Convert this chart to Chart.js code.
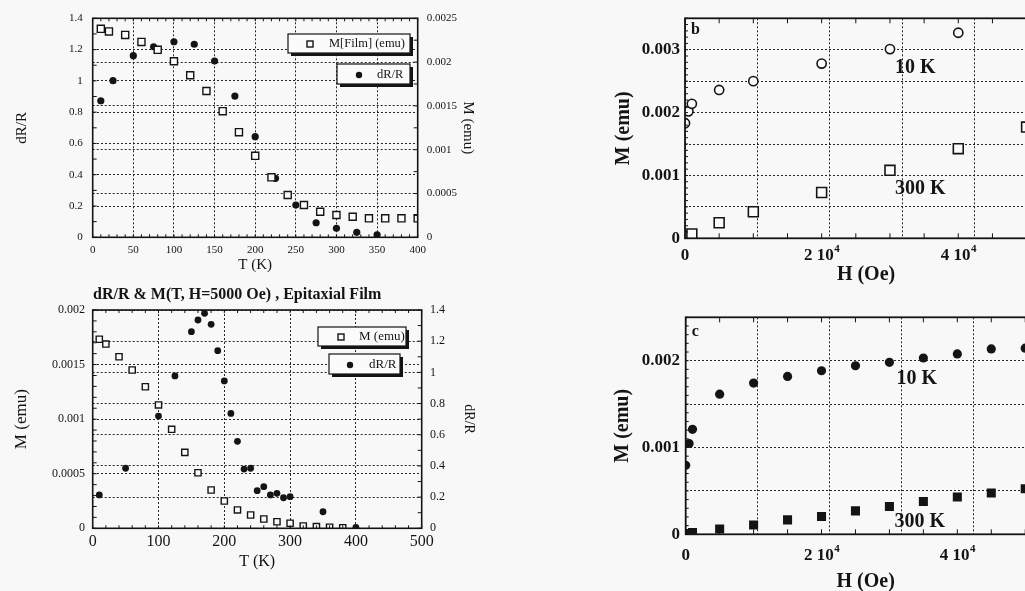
<!DOCTYPE html>
<html>
<head>
<meta charset="utf-8">
<script src="https://cdn.jsdelivr.net/npm/chart.js@4.4.1/dist/chart.umd.min.js"></script>
<style>
  html, body { margin:0; padding:0; width:1025px; height:591px; overflow:hidden; background:#f8f8f8; }
  .box { position:absolute; }
</style>
</head>
<body>
<div class="box" style="left:0;top:0;"><canvas id="cA" width="500" height="280"></canvas></div>
<div class="box" style="left:0;top:280px;"><canvas id="cB" width="500" height="311"></canvas></div>
<div class="box" style="left:600px;top:0;"><canvas id="cC" width="460" height="300"></canvas></div>
<div class="box" style="left:600px;top:300px;"><canvas id="cD" width="460" height="300"></canvas></div>
<script>
// ---------------- DATA ----------------
// Panel A: dR/R & M vs T (film)
const A_T_M = [10,20,40,60,80,100,120,140,160,180,200,220,240,260,280,300,320,340,360,380,400];
const A_M   = [0.00238,0.00235,0.00231,0.00223,0.00214,0.00201,0.00185,0.00167,0.00144,0.00120,0.00093,0.000685,0.000483,0.000369,0.000292,0.000255,0.000235,0.000217,0.000217,0.000217,0.000217];
const A_T_R = [10,25,50,75,100,125,150,175,200,225,250,275,300,325,350];
const A_R   = [0.873,1.001,1.161,1.218,1.250,1.234,1.127,0.903,0.643,0.377,0.206,0.093,0.058,0.032,0.015];

// Panel B: dR/R & M(T, H=5000 Oe), epitaxial film
const B_T_M = [10,20,40,60,80,100,120,140,160,180,200,220,240,260,280,300,320,340,360,380];
const B_M   = [0.001732,0.001688,0.001572,0.00145,0.001297,0.00113,0.000907,0.000696,0.000509,0.000351,0.00025,0.000168,0.000122,0.000085,0.00006,0.000046,0.000021,0.000015,0.00001,0.000005];
const B_T_R = [10,50,100,125,150,160,170,180,190,200,210,220,230,240,250,260,270,280,290,300,350,400];
const B_R   = [0.214,0.385,0.72,0.977,1.261,1.336,1.379,1.308,1.139,0.945,0.737,0.558,0.38,0.385,0.241,0.267,0.214,0.224,0.196,0.203,0.106,0.006];

// Panel C (b): M vs H
const C_H10  = [0,500,1000,5000,10000,20000,30000,40000];
const C_M10  = [0.00183,0.00202,0.00214,0.00236,0.0025,0.00278,0.00301,0.00327];
const C_H300 = [0,500,1000,5000,10000,20000,30000,40000,50000];
const C_M300 = [0.00001,0.00004,0.00007,0.000247,0.000422,0.000729,0.001082,0.001426,0.00177];

// Panel D (c): M vs H
const D_H   = [0,500,1000,5000,10000,15000,20000,25000,30000,35000,40000,45000,50000];
const D_M10 = [0.000795,0.001046,0.001209,0.001614,0.001742,0.001819,0.001884,0.001942,0.001981,0.002031,0.002078,0.002136,0.002144];
const D_M300= [0,0.00001,0.00002,0.000061,0.000108,0.000166,0.000204,0.00027,0.00032,0.000378,0.000429,0.000475,0.000525];

// Tick labels / text
const H_TICKS = [0, 20000, 40000];   // labelled H ticks (shown as "n 10^4")
const A_LEG = ['M[Film] (emu)', 'dR/R'];
const B_LEG = ['M (emu)', 'dR/R'];
const B_TITLE = 'dR/R & M(T, H=5000 Oe) , Epitaxial Film';

// ---------------- HELPERS ----------------
const SERIF = "'Liberation Serif','Times New Roman',serif";
const INK = '#141414';
const pts = (xs, ys) => xs.map((x, i) => ({x, y: ys[i]}));
const fmt = v => String(+Number(v).toFixed(6));

const framePlugin = {
  id: 'frame',
  afterDraw(chart, args, opts) {
    const {ctx, chartArea: a} = chart;
    ctx.save();
    ctx.strokeStyle = INK;
    ctx.lineWidth = 1;
    (opts.minor || []).forEach(m => {
      const s = chart.scales[m.id];
      const n = Math.round((s.max - s.min) / m.step);
      ctx.beginPath();
      for (let i = 0; i <= n; i++) {
        const p = s.getPixelForValue(s.min + i * m.step);
        if (s.isHorizontal()) {
          ctx.moveTo(p, a.bottom); ctx.lineTo(p, a.bottom - m.len);
          ctx.moveTo(p, a.top); ctx.lineTo(p, a.top + m.len);
        } else {
          if (s.position === 'left' || m.both) { ctx.moveTo(a.left, p); ctx.lineTo(a.left + m.len, p); }
          if (s.position === 'right' || m.both) { ctx.moveTo(a.right, p); ctx.lineTo(a.right - m.len, p); }
        }
      }
      ctx.stroke();
    });
    ctx.lineWidth = opts.width || 1.6;
    ctx.strokeRect(a.left, a.top, a.right - a.left, a.bottom - a.top);
    ctx.restore();
  }
};

const decoPlugin = {
  id: 'deco',
  afterDraw(chart, args, opts) {
    const {ctx, chartArea: a} = chart;
    ctx.save();
    (opts.boxes || []).forEach(b => {
      const w = b.x2 - b.x1, h = b.y2 - b.y1;
      ctx.fillStyle = INK; ctx.fillRect(b.x1 + 3, b.y1 + 3, w, h);
      ctx.fillStyle = '#fbfbfb'; ctx.fillRect(b.x1, b.y1, w, h);
      ctx.strokeStyle = INK; ctx.lineWidth = 1.2; ctx.strokeRect(b.x1, b.y1, w, h);
      ctx.fillStyle = INK;
      if (b.marker === 'square') {
        ctx.lineWidth = 1.4; ctx.strokeRect(b.mx - 3, b.my - 3, 6, 6);
      } else {
        ctx.beginPath(); ctx.arc(b.mx, b.my, 3.2, 0, Math.PI * 2); ctx.fill();
      }
      ctx.font = b.font;
      ctx.textAlign = 'left'; ctx.textBaseline = 'middle';
      ctx.fillText(b.text, b.tx, b.my);
    });
    (opts.texts || []).forEach(t => {
      ctx.fillStyle = INK;
      ctx.font = t.font;
      ctx.textAlign = 'left'; ctx.textBaseline = 'middle';
      let x, y;
      if (t.data) {
        x = chart.scales.x.getPixelForValue(t.x);
        y = chart.scales[t.yId || 'y'].getPixelForValue(t.y);
      } else if (t.rel) {
        x = a.left + t.x; y = a.top + t.y;
      } else { x = t.x; y = t.y; }
      ctx.fillText(t.text, x, y);
    });
    if (opts.hLabels) {
      const L = opts.hLabels;
      const sx = chart.scales.x;
      const y = a.bottom + L.dy;
      ctx.fillStyle = INK;
      ctx.textBaseline = 'middle'; ctx.textAlign = 'left';
      L.values.forEach(v => {
        const px = sx.getPixelForValue(v);
        const base = v === 0 ? '0' : (v / 10000) + ' 10';
        const sup = v === 0 ? '' : '4';
        ctx.font = L.font;
        const w1 = ctx.measureText(base).width;
        ctx.font = L.supFont;
        const w2 = sup ? ctx.measureText(sup).width : 0;
        const x0 = px - (w1 + w2) / 2;
        ctx.font = L.font;
        ctx.fillText(base, x0, y);
        if (sup) { ctx.font = L.supFont; ctx.fillText(sup, x0 + w1 + 0.5, y - 6); }
      });
    }
    ctx.restore();
  }
};

function gridOpts() {
  return { color: '#262626', lineWidth: 1, drawTicks: false };
}
function borderOpts() {
  return { display: false, dash: [2, 2] };
}
function baseOpts(padding) {
  return {
    responsive: false, animation: false, devicePixelRatio: 1,
    layout: { padding },
    plugins: { legend: { display: false }, tooltip: { enabled: false } },
  };
}

// ---------------- PANEL A ----------------
(function(){
  const f11 = { family: SERIF, size: 11 };
  const f15 = { family: SERIF, size: 15 };
  const o = baseOpts({ top: 18.3, left: 0, right: 0, bottom: 0 });
  o.scales = {
    x: { type: 'linear', position: 'bottom', min: 0, max: 400,
         ticks: { stepSize: 50, padding: 6, font: f11, color: INK, autoSkip: false, maxRotation: 0, callback: fmt },
         grid: gridOpts(), border: borderOpts(),
         title: { display: true, text: 'T (K)', font: f15, color: INK, padding: { top: 0, bottom: 6 } },
         afterFit: s => { s.height = 42.7; } },
    y: { type: 'linear', position: 'left', min: 0, max: 1.4,
         ticks: { stepSize: 0.2, padding: 10, font: f11, color: INK, autoSkip: false, callback: fmt },
         grid: gridOpts(), border: borderOpts(),
         title: { display: true, text: 'dR/R', font: f15, color: INK, padding: { top: 13, bottom: 0 } },
         afterFit: s => { s.width = 92.7; } },
    y1: { type: 'linear', position: 'right', min: 0, max: 0.0025,
         ticks: { stepSize: 0.0005, padding: 9, font: f11, color: INK, autoSkip: false, callback: fmt },
         grid: gridOpts(), border: borderOpts(),
         title: { display: true, text: 'M (emu)', font: f15, color: INK, padding: { top: 23, bottom: 0 } },
         afterFit: s => { s.width = 82.3; } }
  };
  o.plugins.frame = { minor: [ {id:'x', step:10, len:3}, {id:'y', step:0.1, len:4}, {id:'y1', step:0.00025, len:4} ] };
  const lf = '12.5px ' + SERIF;
  o.plugins.deco = { boxes: [
    { x1: 288, y1: 34, x2: 410, y2: 53, marker: 'square', mx: 310, my: 44, tx: 329, text: A_LEG[0], font: lf },
    { x1: 337, y1: 64, x2: 410, y2: 84, marker: 'circle', mx: 359, my: 75, tx: 377, text: A_LEG[1], font: lf }
  ]};
  new Chart(document.getElementById('cA'), {
    type: 'scatter',
    data: { datasets: [
      { label: A_LEG[0], data: pts(A_T_M, A_M), yAxisID: 'y1', pointStyle: 'rect', pointRadius: 5,
        backgroundColor: '#fbfbfb', borderColor: INK, borderWidth: 1.4 },
      { label: A_LEG[1], data: pts(A_T_R, A_R), yAxisID: 'y', pointStyle: 'circle', pointRadius: 3.6,
        backgroundColor: INK, borderColor: INK, borderWidth: 0 }
    ]},
    options: o,
    plugins: [framePlugin, decoPlugin]
  });
})();

// ---------------- PANEL B ----------------
(function(){
  const f12 = { family: SERIF, size: 12 };
  const f16 = { family: SERIF, size: 16 };
  const o = baseOpts({ top: 30, left: 0, right: 0, bottom: 0 });
  o.scales = {
    x: { type: 'linear', position: 'bottom', min: 0, max: 500,
         ticks: { stepSize: 100, padding: 4, font: f16, color: INK, autoSkip: false, maxRotation: 0, callback: fmt },
         grid: gridOpts(), border: borderOpts(),
         title: { display: true, text: 'T (K)', font: f16, color: INK, padding: { top: 0, bottom: 19.4 } },
         afterFit: s => { s.height = 62.7; } },
    y: { type: 'linear', position: 'left', min: 0, max: 0.002,
         ticks: { stepSize: 0.0005, padding: 7.7, font: f12, color: INK, autoSkip: false, callback: fmt },
         grid: gridOpts(), border: borderOpts(),
         title: { display: true, text: 'M (emu)', font: { family: SERIF, size: 17 }, color: INK, padding: { top: 11.8, bottom: 0 } },
         afterFit: s => { s.width = 92.7; } },
    y1: { type: 'linear', position: 'right', min: 0, max: 1.4,
         ticks: { stepSize: 0.2, padding: 8.3, font: f12, color: INK, autoSkip: false, callback: fmt },
         grid: gridOpts(), border: borderOpts(),
         title: { display: true, text: 'dR/R', font: { family: SERIF, size: 14 }, color: INK, padding: { top: 22.6, bottom: 0 } },
         afterFit: s => { s.width = 78.3; } }
  };
  o.plugins.frame = { minor: [ {id:'x', step:20, len:3}, {id:'y', step:0.0001, len:4}, {id:'y1', step:0.1, len:4} ] };
  const lf = '13px ' + SERIF;
  o.plugins.deco = {
    boxes: [
      { x1: 318, y1: 47, x2: 406, y2: 66, marker: 'square', mx: 341, my: 57, tx: 359, text: B_LEG[0], font: lf },
      { x1: 329, y1: 74, x2: 400, y2: 94, marker: 'circle', mx: 350, my: 85, tx: 369, text: B_LEG[1], font: lf }
    ],
    texts: [ { text: B_TITLE, x: 93, y: 15, font: 'bold 16px ' + SERIF } ]
  };
  new Chart(document.getElementById('cB'), {
    type: 'scatter',
    data: { datasets: [
      { label: B_LEG[0], data: pts(B_T_M, B_M), yAxisID: 'y', pointStyle: 'rect', pointRadius: 4.4,
        backgroundColor: '#fbfbfb', borderColor: INK, borderWidth: 1.4 },
      { label: B_LEG[1], data: pts(B_T_R, B_R), yAxisID: 'y1', pointStyle: 'circle', pointRadius: 3.4,
        backgroundColor: INK, borderColor: INK, borderWidth: 0 }
    ]},
    options: o,
    plugins: [framePlugin, decoPlugin]
  });
})();

// ---------------- PANELS C, D ----------------
function mTick(v) {
  const k = v * 1000;
  if (Math.abs(k - Math.round(k)) < 1e-6) return String(+v.toFixed(4));
  return '';
}
function mhChart(id, cfg) {
  const ft = { family: SERIF, size: 17, weight: 'bold' };
  const fT = { family: SERIF, size: 20, weight: 'bold' };
  const o = baseOpts({ top: cfg.padTop, left: 0, right: cfg.padRight, bottom: 0 });
  o.scales = {
    x: { type: 'linear', position: 'bottom', min: 0, max: 53000,
         ticks: { stepSize: 10000, padding: cfg.xPad, font: ft, color: INK, autoSkip: false, maxRotation: 0, callback: () => '' },
         grid: gridOpts(), border: borderOpts(),
         title: { display: true, text: 'H (Oe)', font: fT, color: INK, padding: { top: 0, bottom: cfg.xTitlePad } },
         afterFit: s => { s.height = cfg.xH; } },
    y: { type: 'linear', position: 'left', min: 0, max: cfg.yMax,
         ticks: { stepSize: 0.0005, padding: cfg.yPad, font: ft, color: INK, autoSkip: false, callback: mTick },
         grid: gridOpts(), border: borderOpts(),
         title: { display: true, text: 'M (emu)', font: fT, color: INK, padding: { top: cfg.yTitlePad, bottom: 0 } },
         afterFit: s => { s.width = cfg.yW; } }
  };
  o.plugins.frame = { width: 1.8, minor: [ {id:'x', step:5000, len:5}, {id:'y', step:0.0001, len:3, both:true} ] };
  o.plugins.deco = { texts: cfg.texts,
    hLabels: { values: H_TICKS, dy: cfg.hLabelDy, font: 'bold 17px ' + SERIF, supFont: 'bold 11px ' + SERIF } };
  new Chart(document.getElementById(id), {
    type: 'scatter',
    data: { datasets: cfg.datasets },
    options: o,
    plugins: [framePlugin, decoPlugin]
  });
}

const bigF = 'bold 20px ' + SERIF;
mhChart('cC', {
  padTop: 18.3, padRight: 12.9, xH: 61.7, yW: 85, yMax: 0.0035,
  xPad: 6.5, yPad: 5, xTitlePad: 13, yTitlePad: 12, hLabelDy: 17,
  datasets: [
    { label: '10 K', data: pts(C_H10, C_M10), pointStyle: 'circle', pointRadius: 4.6,
      backgroundColor: '#fbfbfb', borderColor: INK, borderWidth: 1.6 },
    { label: '300 K', data: pts(C_H300, C_M300), pointStyle: 'rect', pointRadius: 7,
      backgroundColor: '#fbfbfb', borderColor: INK, borderWidth: 1.6 }
  ],
  texts: [
    { text: 'b', rel: true, x: 6, y: 12, font: 'bold 16px ' + SERIF },
    { text: '10 K', data: true, x: 30735, y: 0.002715, font: bigF },
    { text: '300 K', data: true, x: 30735, y: 0.000781, font: bigF }
  ]
});
mhChart('cD', {
  padTop: 17.3, padRight: 14.4, xH: 65.7, yW: 85.7, yMax: 0.0025,
  xPad: 10.5, yPad: 5.7, xTitlePad: 6, yTitlePad: 11, hLabelDy: 21,
  datasets: [
    { label: '10 K', data: pts(D_H, D_M10), pointStyle: 'circle', pointRadius: 4.6,
      backgroundColor: INK, borderColor: INK, borderWidth: 0 },
    { label: '300 K', data: pts(D_H, D_M300), pointStyle: 'rect', pointRadius: 6.4,
      backgroundColor: INK, borderColor: INK, borderWidth: 0 }
  ],
  texts: [
    { text: 'c', rel: true, x: 6, y: 15, font: 'bold 16px ' + SERIF },
    { text: '10 K', data: true, x: 31030, y: 0.001788, font: bigF },
    { text: '300 K', data: true, x: 30735, y: 0.000143, font: bigF }
  ]
});
</script>
</body>
</html>
